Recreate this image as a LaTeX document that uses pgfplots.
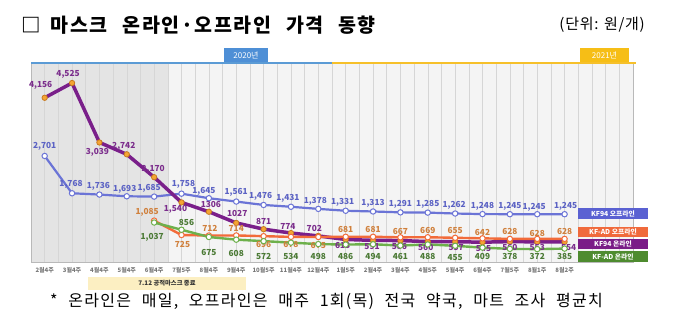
\documentclass[border=0pt]{standalone}
\usepackage{fontspec}
\usepackage{pgfplots}
\usepackage{pgfplotstable}
\pgfplotsset{compat=1.18}
\setmainfont{Noto Sans CJK KR}
\newfontfamily\kr{Noto Sans CJK KR}
\newfontfamily\titlefont[LetterSpace=8]{Noto Sans CJK KR}
\newfontfamily\unitfont[LetterSpace=5]{Noto Sans CJK KR}
\newfontfamily\notefont[LetterSpace=8,WordSpace=2.2]{Noto Sans CJK KR}

\definecolor{bline}{HTML}{6B74D6}
\definecolor{blab}{HTML}{5B62C4}
\definecolor{pline}{HTML}{7A1F8A}
\definecolor{plab}{HTML}{7B2D8C}
\definecolor{pmark}{HTML}{F5A534}
\definecolor{pmarkd}{HTML}{C77A20}
\definecolor{oline}{HTML}{F26B3A}
\definecolor{olab}{HTML}{D0803C}
\definecolor{gline}{HTML}{6DB04B}
\definecolor{glab}{HTML}{4B7A35}
\definecolor{legb}{HTML}{5A61D2}
\definecolor{lego}{HTML}{F06A3C}
\definecolor{legp}{HTML}{7A1C87}
\definecolor{legg}{HTML}{4E8B2F}
\definecolor{bgd}{HTML}{E4E4E4}
\definecolor{bgl}{HTML}{F4F4F4}
\definecolor{gridc}{HTML}{D6D6D6}
\definecolor{yr20}{HTML}{4E8FD6}
\definecolor{yr21}{HTML}{F6BE16}
\definecolor{barb}{HTML}{5B9BD5}
\definecolor{bary}{HTML}{F6C02A}
\definecolor{notec}{HTML}{FCEFC2}
\definecolor{tickc}{HTML}{777777}

\pgfplotstableread{
x y dx dy lab
0 2701 0 10 2,701
1 1768 -1 9 1,768
2 1736 -1 8 1,736
3 1693 -2 7 1,693
4 1685 -5 8 1,685
5 1758 2 9 1,758
6 1645 -5 7 1,645
7 1561 0 9 1,561
8 1476 -3 9 1,476
9 1431 -3 8 1,431
10 1378 -3 8 1,378
11 1331 -3 8 1,331
12 1313 0 8 1,313
13 1291 0 8 1,291
14 1285 0 8 1,285
15 1262 -1 8 1,262
16 1248 0 8 1,248
17 1245 0 8 1,245
18 1245 -3 7 1,245
19 1245 1 8 1,245
}\kfoff

\pgfplotstableread{
x y dx dy lab
0 4156 -4 12 4,156
1 4525 -4 9 4,525
2 3039 -2 -10 3,039
3 2742 -3 8 2,742
4 2170 -1 8 2,170
5 1540 -6 -7 1,540
6 1306 2 7 1306
7 1027 1 9 1027
8 871 0 8 871
9 774 -3 7 774
10 702 -4 7 702
11 613 -3 -6 613
12 591 -1 -6 591
13 586 -1 -6 586
14 560 -2 -6 560
15 557 1 -6 557
16 545 1 -6 545
17 560 0 -6 560
18 553 0 -6 553
19 554 4 -6 554
}\kfon

\pgfplotstableread{
x y dx dy lab
4 1085 -7 8 1,085
5 725 1 -9 725
6 712 1 7 712
7 714 0 7 714
8 696 0 -8 696
9 678 0 -8 678
10 675 0 -8 675
11 681 0 7 681
12 681 0 7 681
13 667 0 6 667
14 669 0 7 669
15 655 0 7 655
16 642 0 6 642
17 628 0 7 628
18 628 0 5 628
19 628 0 7 628
}\adoff

\pgfplotstableread{
x y dx dy lab
4 1037 -2 -15 1,037
5 856 5 7 856
6 675 0 -15 675
7 608 0 -14 608
8 572 0 -15 572
9 534 0 -14 534
10 498 0 -12.5 498
11 486 0 -12 486
12 494 0 -12 494
13 461 0 -11 461
14 488 0 -12 488
15 455 0 -11.5 455
16 409 0 -9 409
17 378 0 -8 378
18 372 0 -7.5 372
19 385 0 -8 385
}\adon

\pgfplotsset{
  lbl/.style={
    nodes near coords,
    point meta=explicit symbolic,
    visualization depends on={\thisrow{dx}\as\ldx},
    visualization depends on={\thisrow{dy}\as\ldy},
    every node near coord/.append style={font=\kr\bfseries\fontsize{8.3}{9}\selectfont, text=#1, anchor=center, inner sep=0pt, xshift=\ldx pt, yshift=\ldy pt},
  },
}

\begin{document}
\begin{tikzpicture}[x=1pt,y=1pt]

\begin{axis}[
  at={(31pt,60pt)}, anchor=south west,
  scale only axis, width=602pt, height=199pt,
  xmin=-0.5, xmax=21.5, ymin=50, ymax=5025,
  set layers,
  clip=false,
  axis line style={draw=gray!55, line width=0.6pt},
  xtick={0,...,19},
  xticklabels={2월4주,3월4주,4월4주,5월4주,6월4주,7월5주,8월4주,9월4주,10월5주,11월4주,12월4주,1월5주,2월4주,3월4주,4월5주,5월4주,6월4주,7월5주,8월1주,8월2주},
  xticklabel style={font=\kr\bfseries\fontsize{6}{7}\selectfont, text=tickc, yshift=-1.5pt},
  major tick length=0pt, minor tick length=0pt,
  minor xtick={-0.5,0,...,21.5},
  xminorgrids=true,
  minor grid style={draw=gridc, line width=0.5pt},
  ytick=\empty,
]
\begin{pgfonlayer}{axis background}
\fill[bgl] (axis cs:-0.5,50) rectangle (axis cs:21.5,5025);
\fill[bgd] (axis cs:-0.5,50) rectangle (axis cs:4.5,5025);
\end{pgfonlayer}

\addplot[bline, line width=2.2pt, mark=*, mark size=2.7pt,
  mark options={fill=white, draw=bline, line width=1pt}, lbl=blab]
  table[x=x, y=y, meta=lab] {\kfoff};
\addplot[pline, line width=3.5pt, mark=*, mark size=2.7pt,
  mark options={fill=pmark, draw=pmarkd, line width=0.8pt}, lbl=plab]
  table[x=x, y=y, meta=lab] {\kfon};
\addplot[oline, line width=2.4pt, mark=*, mark size=2.7pt,
  mark options={fill=white, draw=oline, line width=1pt}, lbl=olab]
  table[x=x, y=y, meta=lab] {\adoff};
\addplot[gline, line width=2.4pt, mark=*, mark size=2.7pt,
  mark options={fill=white, draw=gline, line width=1pt}, lbl=glab]
  table[x=x, y=y, meta=lab] {\adon};

\draw[barb, line width=2.6pt] (axis cs:-0.5,5025) -- (axis cs:10.5,5025);
\draw[bary, line width=2.6pt] (axis cs:10.5,5025) -- (axis cs:21.6,5025);
\end{axis}

% title and unit
\node[anchor=west, inner sep=0pt] at (21,297) {\titlefont\bfseries\fontsize{19.5}{22}\selectfont □\hspace{10pt}마스크\hspace{15pt}온라인·오프라인\hspace{15pt}가격\hspace{15pt}동향};
\node[anchor=east, inner sep=0pt] at (645,297) {\unitfont\fontsize{15}{18}\selectfont (단위: 원/개)};

% year boxes
\node[fill=yr20, text=white, minimum width=44pt, minimum height=14pt, inner sep=0pt, font=\kr\fontsize{8}{9}\selectfont] at (246,267) {2020년};
\node[fill=yr21, text=white, minimum width=49pt, minimum height=14pt, inner sep=0pt, font=\kr\fontsize{8}{9}\selectfont] at (604.5,267) {2021년};

% legend boxes
\node[fill=legb, text=white, minimum width=70pt, minimum height=11pt, inner sep=0pt, font=\kr\bfseries\fontsize{6.8}{8}\selectfont] at (613,108.5) {KF94 오프라인};
\node[fill=lego, text=white, minimum width=70pt, minimum height=10.5pt, inner sep=0pt, font=\kr\bfseries\fontsize{6.8}{8}\selectfont] at (613,90) {KF-AD 오프라인};
\node[fill=legp, text=white, minimum width=70pt, minimum height=10.5pt, inner sep=0pt, font=\kr\bfseries\fontsize{6.8}{8}\selectfont] at (613,78) {KF94 온라인};
\node[fill=legg, text=white, minimum width=70pt, minimum height=11pt, inner sep=0pt, font=\kr\bfseries\fontsize{6.8}{8}\selectfont] at (613,65.5) {KF-AD 온라인};

% note box
\node[fill=notec, text=black!80, minimum width=158pt, minimum height=13pt, inner sep=0pt, font=\kr\bfseries\fontsize{6.3}{7}\selectfont] at (167,39) {7.12 공적마스크 종료};

% footnote
\node[anchor=west, inner sep=0pt] at (50,21) {\notefont\fontsize{16}{19}\selectfont * 온라인은 매일, 오프라인은 매주 1회(목) 전국 약국, 마트 조사 평균치};

\pgfresetboundingbox
\path[use as bounding box] (0,0) rectangle (680,322);
\end{tikzpicture}
\end{document}
